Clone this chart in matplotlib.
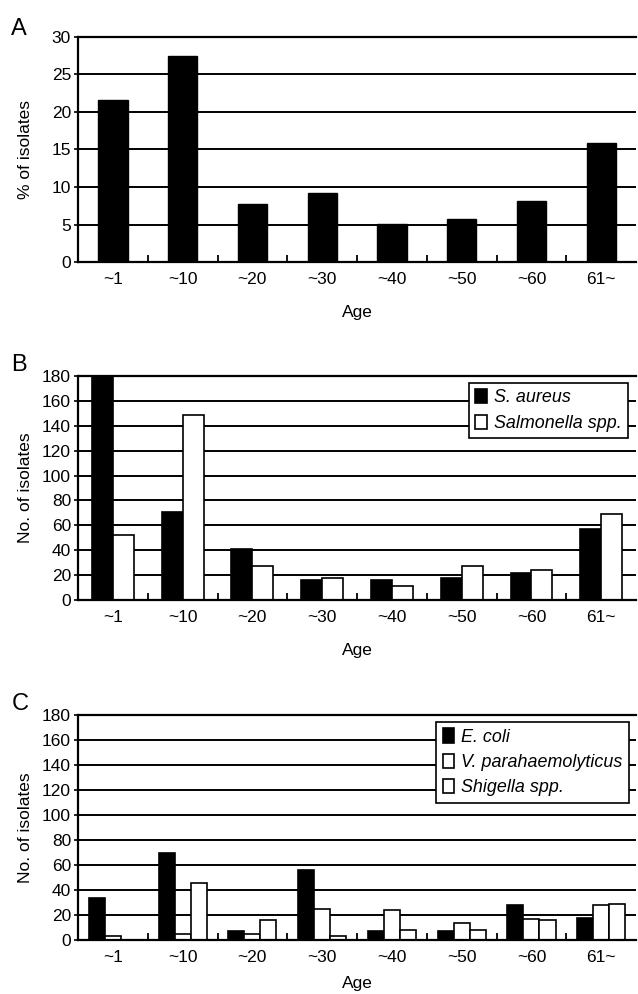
import matplotlib
matplotlib.use("Agg")
import matplotlib.pyplot as plt
import numpy as np

plt.rcParams['font.family'] = ['Liberation Sans', 'DejaVu Sans']

ages = ["~1", "~10", "~20", "~30", "~40", "~50", "~60", "61~"]

pct_isolates = [21.6, 27.5, 7.8, 9.2, 5.1, 5.7, 8.2, 15.9]

s_aureus = [182, 71, 41, 16, 16, 18, 22, 57]
salmonella = [52, 149, 27, 18, 11, 27, 24, 69]

e_coli = [34, 70, 7, 56, 7, 7, 28, 18]
v_para = [3, 5, 5, 25, 24, 14, 17, 28]
shigella = [0, 46, 16, 3, 8, 8, 16, 29]

fig = plt.figure(figsize=(6.38, 9.94), dpi=100)

L, R = 78 / 638, 0.997
axA = fig.add_axes([L, 0.7364, R - L, 0.2264])
axB = fig.add_axes([L, 0.3964, R - L, 0.2254])
axC = fig.add_axes([L, 0.0543, R - L, 0.2264])

x = np.arange(len(ages))
FS = 12.5


def style(ax, ymax, step, ylabel, xpad=13):
    ax.set_xlim(-0.5, len(ages) - 0.5)
    ax.set_ylim(0, ymax)
    ax.set_yticks(np.arange(0, ymax + 1, step))
    ax.set_axisbelow(True)
    ax.yaxis.grid(True, color='black', linewidth=1.4)
    ax.set_xticks(x)
    ax.set_xticklabels(ages, fontsize=FS)
    ax.set_xticks(np.arange(0.5, len(ages) - 0.5, 1.0), minor=True)
    ax.tick_params(axis='x', which='major', length=0, pad=7)
    ax.tick_params(axis='x', which='minor', direction='in', length=5, width=1.3)
    ax.tick_params(axis='y', which='major', length=3, width=1.2, labelsize=FS, pad=2)
    for s in ax.spines.values():
        s.set_linewidth(1.6)
    ax.spines['right'].set_visible(False)
    ax.set_ylabel(ylabel, fontsize=FS)
    ax.yaxis.set_label_coords(-0.081, 0.5)
    ax.set_xlabel("Age", fontsize=FS, labelpad=xpad)


# Panel A
axA.bar(x, pct_isolates, width=0.42, color='black', edgecolor='black', linewidth=1)
style(axA, 30, 5, "% of isolates")

legkw = dict(loc='upper right', fancybox=False, edgecolor='black', framealpha=1,
             prop={'style': 'italic', 'size': 12.9}, handlelength=0.65, handleheight=0.85,
             handletextpad=0.4, borderpad=0.35, labelspacing=0.45, borderaxespad=0.0)

# Panel B
wB = 0.3
axB.bar(x - wB / 2, s_aureus, width=wB, color='black', edgecolor='black', linewidth=1.2,
        label='S. aureus')
axB.bar(x + wB / 2, salmonella, width=wB, color='white', edgecolor='black', linewidth=1.2,
        label='Salmonella spp.')
style(axB, 180, 20, "No. of isolates")
legB = axB.legend(bbox_to_anchor=(0.9857, 0.969), **legkw)
legB.get_frame().set_linewidth(1.2)

# Panel C
wC = 0.23
axC.bar(x - wC, e_coli, width=wC, color='black', edgecolor='black', linewidth=1.2,
        label='E. coli')
axC.bar(x, v_para, width=wC, color='white', edgecolor='black', linewidth=1.2,
        label='V. parahaemolyticus')
axC.bar(x + wC, shigella, width=wC, color='white', edgecolor='black', linewidth=1.2,
        label='Shigella spp.')
style(axC, 180, 20, "No. of isolates", xpad=8)
legC = axC.legend(bbox_to_anchor=(0.9875, 0.969), **legkw)
legC.get_frame().set_linewidth(1.2)

fig.text(0.030, 0.971, "A", fontsize=17, ha='center', va='center')
fig.text(0.030, 0.633, "B", fontsize=17, ha='center', va='center')
fig.text(0.031, 0.292, "C", fontsize=17, ha='center', va='center')

fig.savefig("out.png", dpi=100)
